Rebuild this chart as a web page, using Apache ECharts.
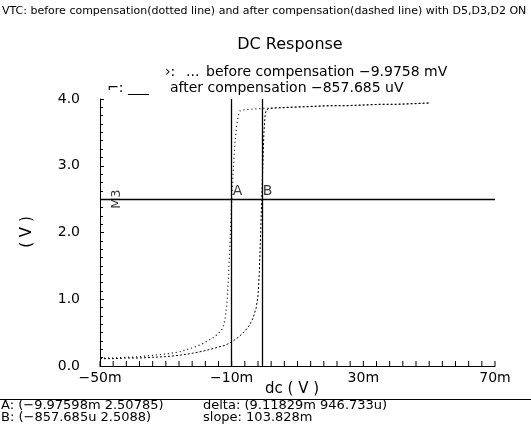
<!DOCTYPE html>
<html><head><meta charset="utf-8">
<script src="https://cdn.jsdelivr.net/npm/echarts@6/dist/echarts.min.js"></script>
<style>html,body{margin:0;padding:0;background:#fff}#c{width:531px;height:432px}</style>
</head><body><div id="c"></div>
<script>
// ---- data (dc sweep in mV, output in V) ----
const beforeX = [-50,-46,-42,-38,-34,-30,-26,-22,-19,-16,-14,-13,-12.5,-12,-11.5,-11,-10.5,-10,-9.5,-9,-8.5,-8,-7.5,-6,-3,0,5,10,15,20,25,30,35,40,45,50];
const beforeY = [0.12,0.12,0.13,0.14,0.16,0.18,0.21,0.27,0.33,0.41,0.49,0.55,0.6,0.7,0.9,1.3,1.85,2.45,2.95,3.35,3.6,3.75,3.82,3.84,3.85,3.86,3.87,3.88,3.89,3.9,3.9,3.91,3.92,3.92,3.93,3.94];
const afterX = [-50,-46,-42,-38,-34,-30,-26,-22,-18,-15,-12,-10,-8,-6,-4.5,-3.5,-2.5,-2,-1.6,-1.2,-0.86,-0.5,-0.2,0.2,0.6,1.5,5,10,15,20,25,30,35,40,45,50];
const afterY = [0.11,0.11,0.12,0.12,0.13,0.14,0.16,0.19,0.23,0.27,0.31,0.36,0.43,0.52,0.62,0.72,0.88,1.05,1.4,2.0,2.5,3.05,3.5,3.78,3.84,3.86,3.87,3.88,3.89,3.9,3.9,3.91,3.92,3.92,3.93,3.94];
const cursorX = [-9.97598, -0.857685];
const cursorNames = ['A', 'B'];
const cursorY = 2.5;
const markerName = 'M3';
const markerX = -45;
const xTickLabels = [-50, -10, 30, 70];
const xTicks = [-50,-46,-42,-38,-34,-30,-26,-22,-18,-14,-10,-6,-2,2,6,10,14,18,22,26,30,34,38,42,46,50,54,58,62,66,70];
const yTickLabels = [0, 1, 2, 3, 4];

const captionText = 'VTC: before compensation(dotted line) and after compensation(dashed line) with D5,D3,D2 ON';
const titleText = 'DC Response';
const legendBefore = ['\u203a:', '...', 'before compensation \u22129.9758 mV'];
const legendAfter = ['\u2310:', '___', 'after compensation \u2212857.685 uV'];
const xAxisTitle = 'dc ( V )';
const yAxisTitle = '( V )';
const readoutA = 'A: (\u22129.97598m 2.50785)';
const readoutB = 'B: (\u2212857.685u 2.5088)';
const readoutDelta = 'delta: (9.11829m 946.733u)';
const readoutSlope = 'slope: 103.828m';

const FONT = 'DejaVu Sans';
const zip = (xs, ys) => xs.map((x, i) => [x, ys[i]]);
const txt = (x, y, text, size, extra) => ({type: 'text', x: x, y: y,
  style: Object.assign({text: text, fontSize: size, fontFamily: FONT, fill: '#000', verticalAlign: 'middle'}, extra || {})});

const chart = echarts.init(document.getElementById('c'), null, {renderer: 'canvas'});
chart.setOption({
  animation: false,
  backgroundColor: '#fff',
  textStyle: {fontFamily: FONT, color: '#000'},
  grid: {left: 100, right: 36, top: 99, bottom: 66},
  xAxis: {
    type: 'value', min: -50, max: 70,
    axisLine: {show: true, onZero: false, lineStyle: {color: '#000', width: 1}},
    axisTick: {show: false},
    axisLabel: {show: true, customValues: xTickLabels, formatter: v => (v < 0 ? '\u2212' + Math.abs(v) : v) + 'm',
      fontSize: 14, color: '#000', margin: 5, fontFamily: FONT},
    splitLine: {show: false}
  },
  yAxis: {
    type: 'value', min: 0, max: 4, interval: 1,
    axisLine: {show: true, onZero: false, lineStyle: {color: '#000', width: 1}},
    axisTick: {show: true, inside: true, length: 4, lineStyle: {color: '#000', width: 1}},
    minorTick: {show: true, splitNumber: 8, length: 3, lineStyle: {color: '#000', width: 1}},
    axisLabel: {show: true, formatter: v => v.toFixed(1), fontSize: 14, color: '#000', margin: 20, fontFamily: FONT},
    splitLine: {show: false}
  },
  series: [
    {
      name: 'xTicks', type: 'scatter', silent: true, clip: false, z: 5,
      data: xTicks.map(v => [v, 0]),
      symbol: 'rect', symbolSize: [1, 5], symbolOffset: [0, -2.5],
      itemStyle: {color: '#000', opacity: 1}
    },
    {
      name: 'before', type: 'line', data: zip(beforeX, beforeY), showSymbol: false, symbol: 'none',
      lineStyle: {color: '#000', width: 1.2, type: [1, 3]}, silent: true
    },
    {
      name: 'after', type: 'line', data: zip(afterX, afterY), showSymbol: false, symbol: 'none',
      lineStyle: {color: '#000', width: 1, type: [2, 2]}, silent: true
    },
    {
      name: 'cursors', type: 'line', data: [], silent: true,
      markLine: {
        symbol: 'none', silent: true, animation: false,
        label: {show: false},
        lineStyle: {color: '#000', width: 1.3, type: 'solid'},
        data: [{xAxis: cursorX[0]}, {xAxis: cursorX[1]}, {yAxis: cursorY}]
      }
    },
    {
      name: 'cursorLabels', type: 'scatter', symbolSize: 0, silent: true,
      data: cursorX.map((x, i) => [x, cursorY, cursorNames[i]]),
      label: {show: true, formatter: p => p.value[2], position: 'right', distance: 1, offset: [0, -8],
        fontSize: 14, color: '#000', fontFamily: FONT}
    },
    {
      name: 'marker', type: 'scatter', symbolSize: 0, silent: true,
      data: [[markerX, cursorY, markerName]],
      label: {show: true, formatter: p => p.value[2], position: 'inside', rotate: 90,
        fontSize: 13, color: '#000', fontFamily: FONT}
    }
  ],
  graphic: [
    txt(2, 11, captionText, 11),
    txt(290, 45, titleText, 16, {align: 'center'}),
    txt(165, 72, legendBefore[0], 14),
    txt(186, 72, legendBefore[1], 14),
    txt(206, 72, legendBefore[2], 14),
    txt(107, 88, legendAfter[0], 14),
    txt(128, 88, legendAfter[1], 14),
    txt(170, 88, legendAfter[2], 14),
    txt(292, 389, xAxisTitle, 15, {align: 'center'}),
    {type: 'text', x: 27, y: 232, rotation: Math.PI / 2,
      style: {text: yAxisTitle, fontSize: 15, fontFamily: FONT, fill: '#000', align: 'center', verticalAlign: 'middle'}},
    {type: 'line', shape: {x1: 0, y1: 399.5, x2: 531, y2: 399.5}, style: {stroke: '#000', lineWidth: 1}},
    txt(1, 406, readoutA, 13),
    txt(1, 418, readoutB, 13),
    txt(203, 406, readoutDelta, 13),
    txt(203, 418, readoutSlope, 13)
  ]
});
</script>
</body></html>
